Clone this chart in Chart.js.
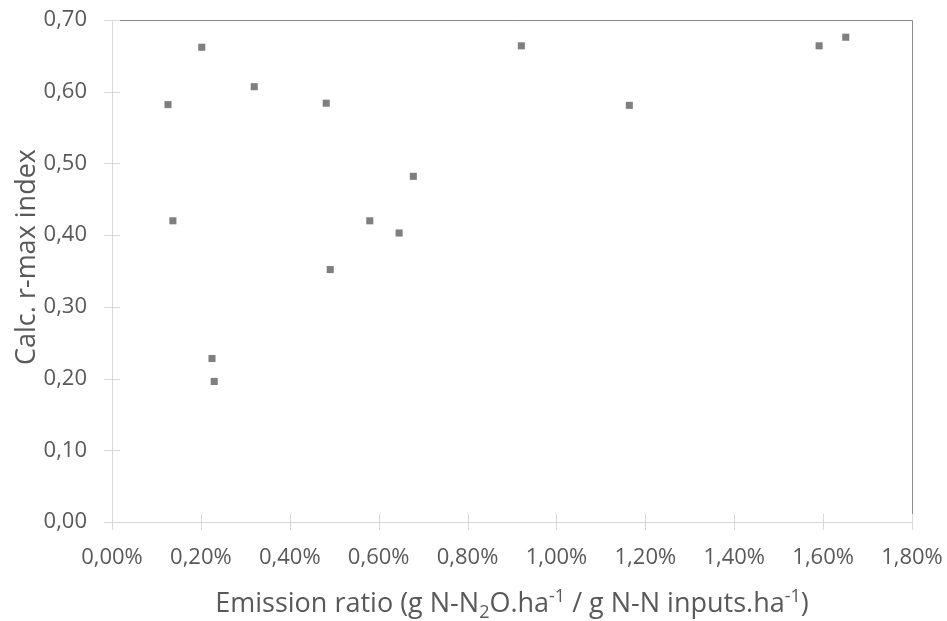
<!DOCTYPE html>
<html>
<head>
<meta charset="utf-8">
<script src="https://cdn.jsdelivr.net/npm/chart.js@4/dist/chart.umd.min.js"></script>
<style>
  html, body { margin: 0; padding: 0; background: #fff; }
  #wrap { width: 947px; height: 621px; }
</style>
</head>
<body>
<div id="wrap"><canvas id="myChart" width="947" height="621"></canvas></div>
<script>
// emission ratio in %, r-max index
const emissionRatio = [0.126, 0.202, 0.137, 0.225, 0.230, 0.320, 0.482, 0.491, 0.580, 0.646, 0.678, 0.921, 1.164, 1.591, 1.651];
const rMaxIndex = [0.582, 0.662, 0.420, 0.228, 0.196, 0.607, 0.584, 0.352, 0.420, 0.403, 0.482, 0.664, 0.581, 0.664, 0.676];

const yTitle = "Calc. r-max index";
// x title pieces: [text, mode] where mode is "", "sub" or "sup"
const xTitleParts = [
  ["Emission ratio (g N-N", ""], ["2", "sub"], ["O.ha", ""], ["-1", "sup"],
  [" / g N-N inputs.ha", ""], ["-1", "sup"], [")", ""]
];

const fontFamily = "'Open Sans', 'Liberation Sans', sans-serif";
const textColor = "#595959";
const axisColor = "#d9d9d9";
const borderColor = "#8c8c8c";

const points = emissionRatio.map((x, i) => ({ x: x, y: rMaxIndex[i] }));

// axis ticks crossing the axis line, the top/right frame and the titles
const framePlugin = {
  id: "frame",
  afterDraw(chart) {
    const ctx = chart.ctx;
    const xs = chart.scales.x, ys = chart.scales.y;
    const a = chart.chartArea;
    ctx.save();
    ctx.lineWidth = 1;
    ctx.strokeStyle = axisColor;
    ctx.beginPath();
    ctx.moveTo(a.left + 0.5, a.top);
    ctx.lineTo(a.left + 0.5, a.bottom);
    ctx.moveTo(a.left, a.bottom + 0.5);
    ctx.lineTo(a.right, a.bottom + 0.5);
    xs.ticks.forEach(t => {
      const px = Math.round(xs.getPixelForValue(t.value)) + 0.5;
      ctx.moveTo(px, a.bottom - 8);
      ctx.lineTo(px, a.bottom + 8);
    });
    ys.ticks.forEach(t => {
      const py = Math.round(ys.getPixelForValue(t.value)) + 0.5;
      ctx.moveTo(a.left - 8, py);
      ctx.lineTo(a.left + 8, py);
    });
    ctx.stroke();
    ctx.strokeStyle = borderColor;
    ctx.beginPath();
    ctx.moveTo(a.left + 8, a.top + 0.5);
    ctx.lineTo(a.right + 0.5, a.top + 0.5);
    ctx.lineTo(a.right + 0.5, a.bottom - 8);
    ctx.stroke();

    const big = "27px " + fontFamily;
    const small = "18px " + fontFamily;
    ctx.fillStyle = textColor;

    // y axis title
    ctx.save();
    ctx.translate(27, 257);
    ctx.rotate(-Math.PI / 2);
    ctx.font = big;
    ctx.textAlign = "center";
    ctx.textBaseline = "middle";
    ctx.fillText(yTitle, 0, 0);
    ctx.restore();

    // x axis title with sub/superscripts
    let total = 0;
    xTitleParts.forEach(p => {
      ctx.font = p[1] ? small : big;
      total += ctx.measureText(p[0]).width;
    });
    let x = (a.left + a.right) / 2 - total / 2;
    const base = 612;
    ctx.textBaseline = "alphabetic";
    ctx.textAlign = "left";
    xTitleParts.forEach(p => {
      ctx.font = p[1] ? small : big;
      let dy = 0;
      if (p[1] === "sub") dy = 6;
      if (p[1] === "sup") dy = -10;
      ctx.fillText(p[0], x, base + dy);
      x += ctx.measureText(p[0]).width;
    });
    ctx.restore();
  }
};

const ctx = document.getElementById("myChart").getContext("2d");
const myChart = new Chart(ctx, {
  type: "scatter",
  data: {
    datasets: [{
      data: points,
      pointStyle: "rect",
      pointRadius: 5,
      pointHoverRadius: 5,
      backgroundColor: "#7f7f7f",
      borderColor: "#7f7f7f",
      borderWidth: 0
    }]
  },
  options: {
    responsive: false,
    animation: false,
    events: [],
    layout: { padding: { top: 20, right: 35, left: 0, bottom: 0 } },
    plugins: {
      legend: { display: false },
      tooltip: { enabled: false }
    },
    scales: {
      x: {
        type: "linear",
        min: 0,
        max: 1.8,
        border: { display: false },
        grid: { display: false },
        ticks: {
          stepSize: 0.2,
          padding: 15,
          color: textColor,
          font: { family: fontFamily, size: 22 },
          maxRotation: 0,
          callback: v => v.toFixed(2).replace(".", ",") + "%"
        },
        afterFit: s => { s.height = 99; s.paddingLeft = 0; s.paddingRight = 0; }
      },
      y: {
        min: 0,
        max: 0.7,
        border: { display: false },
        grid: { display: false },
        ticks: {
          stepSize: 0.1,
          padding: 17,
          color: textColor,
          font: { family: fontFamily, size: 22 },
          callback: v => v.toFixed(2).replace(".", ",")
        },
        afterFit: s => { s.width = 112; s.paddingTop = 0; s.paddingBottom = 0; }
      }
    }
  },
  plugins: [framePlugin]
});
</script>
</body>
</html>
